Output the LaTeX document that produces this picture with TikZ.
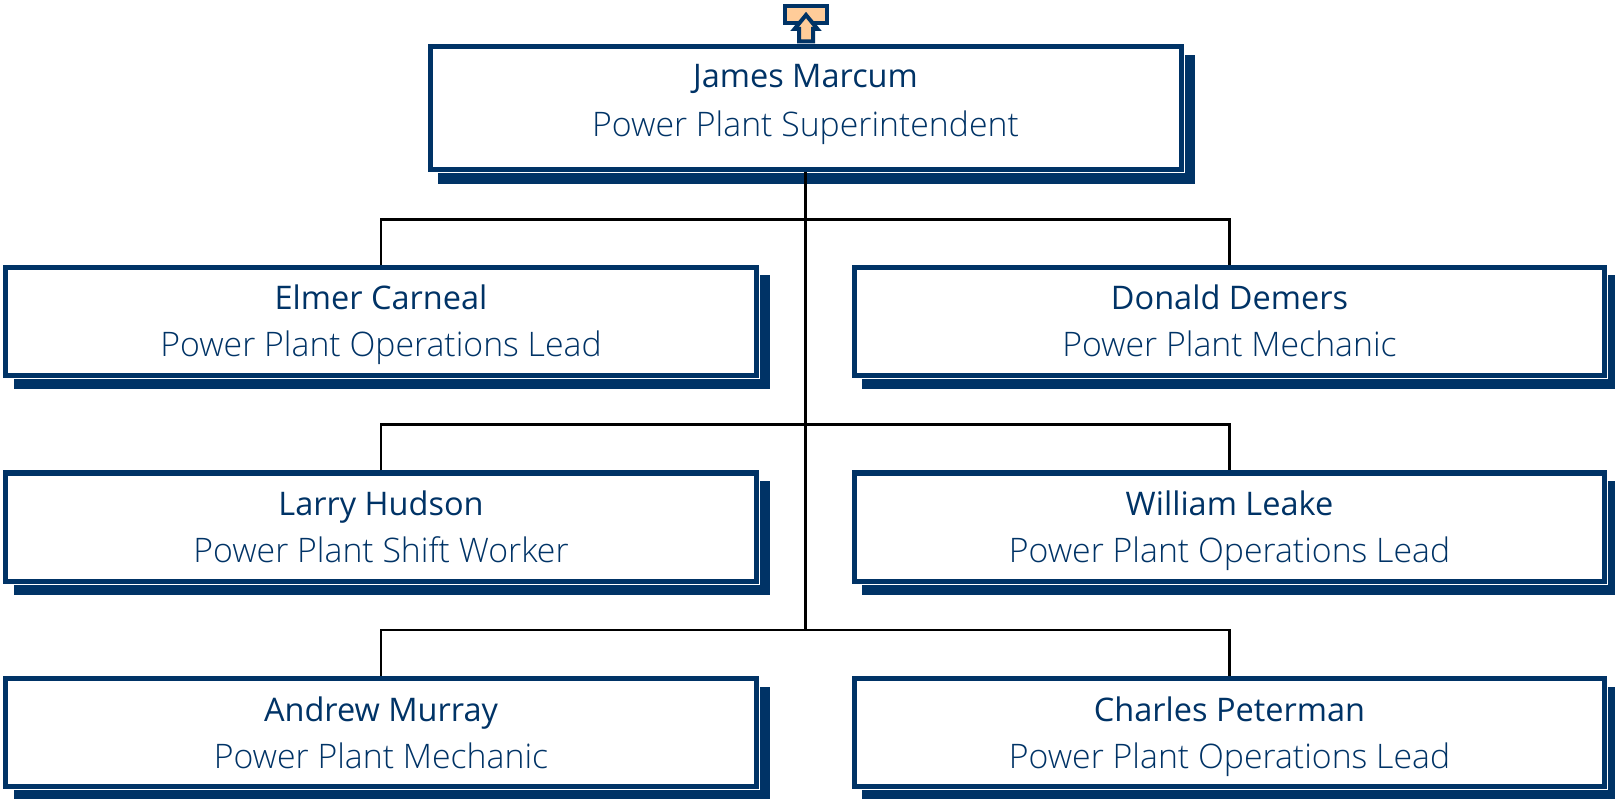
\documentclass[tikz,border=0pt]{standalone}
\usepackage{fontspec}
\setmainfont{Open Sans}
\newfontfamily\titlefont{Open Sans Light}
\usetikzlibrary{positioning,shadows}
\definecolor{navy}{HTML}{003366}
\definecolor{peach}{HTML}{FFCC99}
\tikzstyle{person} = [
  draw=navy,
  fill=white,
  line width=5pt,
  text=navy,
  rectangle,
  minimum width=750.5pt,
  minimum height=108pt,
  inner sep=0pt,
  align=center,
  font=\fontsize{33}{47}\selectfont,
  general shadow={fill=navy,draw=navy,line width=6pt,shadow xshift=11pt,shadow yshift=-11pt},
  general shadow={draw=white,line width=7pt},
]
\tikzstyle{boss} = [
  person,
  minimum width=751pt,
  minimum height=123pt,
  font=\fontsize{33}{49}\selectfont,
]
\tikzstyle{wire} = [
  line width=2.4pt,
]
\tikzstyle{upicon} = [
  draw=navy,
  fill=peach,
  line width=4pt,
]
\newcommand{\persontext}[3][0pt]{%
  \rule{0pt}{24pt}\smash{\fontsize{32.5}{47}\selectfont #2}\\
  \rule[-#1]{0pt}{#1}\smash{\titlefont\fontsize{33.8}{47}\selectfont #3}}
\begin{document}
\begin{tikzpicture}[
    x=1pt,
    y=1pt,
    node distance=92.5pt,
  ]
  \useasboundingbox (0,0) rectangle (1615,-799);
  \node[
    boss,
  ](james) at (805.5,-108.5){\persontext[17pt]{James Marcum}{Power Plant Superintendent}};
  \node[
    person,
  ](elmer) at (381,-321.5){\persontext{Elmer Carneal}{Power Plant Operations Lead}};
  \node[
    person,
    right=93pt of elmer,
  ](donald){\persontext{Donald Demers}{Power Plant Mechanic}};
  \node[
    person,
    below=of elmer,
  ](larry){\persontext{Larry Hudson}{Power Plant Shift Worker}};
  \node[
    person,
    right=93pt of larry,
  ](william){\persontext{William Leake}{Power Plant Operations Lead}};
  \node[
    person,
    below=of larry,
  ](andrew){\persontext{Andrew Murray}{Power Plant Mechanic}};
  \node[
    person,
    right=93pt of andrew,
  ](charles){\persontext{Charles Peterman}{Power Plant Operations Lead}};
  % bus lines
  \coordinate (bus1) at (james.south |- 0,-219.5);
  \coordinate (bus2) at (james.south |- 0,-424.5);
  \coordinate (bus3) at (james.south |- 0,-630);
  \draw[wire] (james.south) -- (bus3);
  \draw[wire] (elmer.north) |- (bus1) -| (donald.north);
  \draw[wire] (larry.north) |- (bus2) -| (william.north);
  \draw[wire] (andrew.north) |- (bus3) -| (charles.north);
  % go-up icon
  \node[
    upicon,
    minimum width=42pt,
    minimum height=17pt,
    inner sep=0pt,
  ](upbox) at (806,-14.5){};
  \draw[upicon,line join=miter] (806,-15) -- (794.5,-29) -- (799,-29) -- (799,-41.5)
    -- (813,-41.5) -- (813,-29) -- (817.5,-29) -- cycle;
\end{tikzpicture}
\end{document}
